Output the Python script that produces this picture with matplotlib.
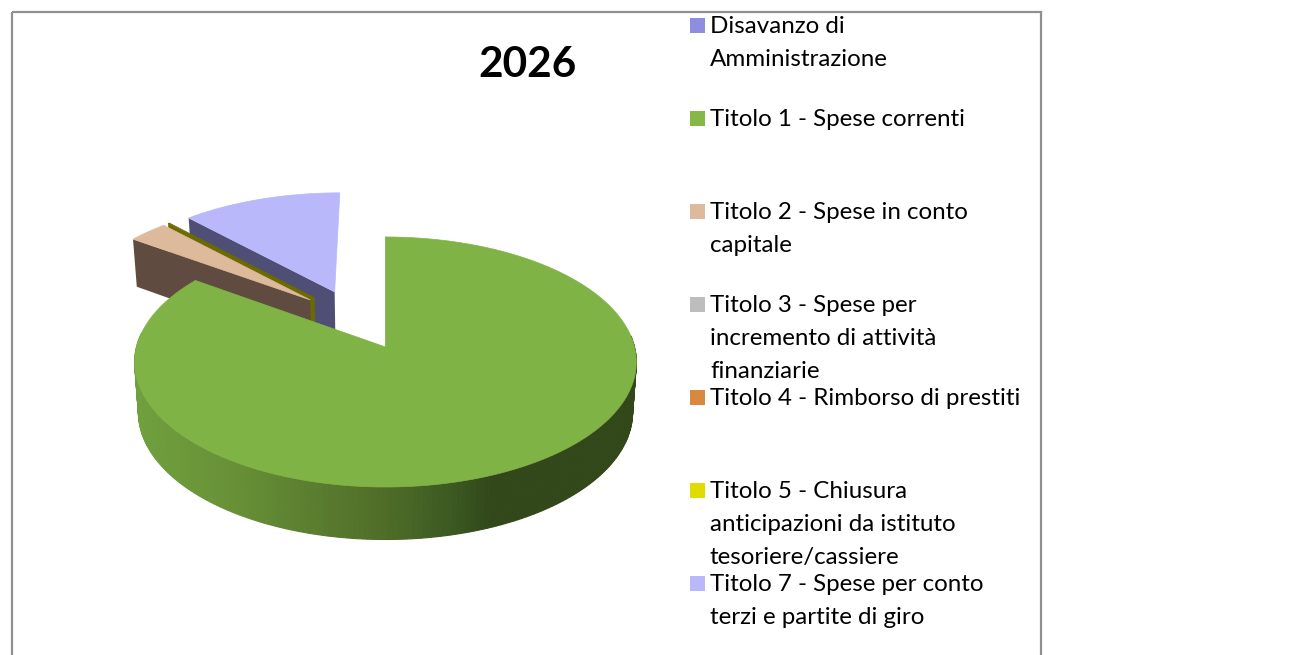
import numpy as np
import matplotlib
matplotlib.use('Agg')
import matplotlib.pyplot as plt
from matplotlib.patches import Rectangle

title = '2026'
# legend entries, one list item per line of text
legend_labels = [
    ['Disavanzo di', 'Amministrazione'],
    ['Titolo 1 - Spese correnti'],
    ['Titolo 2 - Spese in conto', 'capitale'],
    ['Titolo 3 - Spese per', 'incremento di attività', 'finanziarie'],
    ['Titolo 4 - Rimborso di prestiti'],
    ['Titolo 5 - Chiusura', 'anticipazioni da istituto', 'tesoriere/cassiere'],
    ['Titolo 7 - Spese per conto', 'terzi e partite di giro'],
]
legend_colors = ['#8e8ee0', '#84b847', '#deba9d', '#bdbdbd', '#d9893f', '#e0dc00', '#b8b8fb']
legend_y = [25, 118, 211, 304, 397, 490, 583]

# percentages, clockwise from 12 o'clock
values = [0, 84.8, 3.0, 0, 0, 0.12, 12.08]
top_colors = ['#8e8ee0', '#80b346', '#deba9d', '#bdbdbd', '#d9893f', '#6b6b00', '#b8b8fb']
wall_colors = ['#4c4c78', '#4a6a26', '#604b40', '#666666', '#70471f', '#6b6b00', '#4f4f75']

# fake 3d: exploded pie seen from above, with some perspective
ox, oy = 385.5, 347
rx, ry, persp = 249, 123.2, 0.12
explode = 0.26
depth = 50


def project(u, v):
    s = 1 + persp * v
    return ox + rx * u / s, oy - ry * v / s


def bottom(u, v):
    x, y = project(u, v)
    return ox + (x - ox) * 0.985, y + depth * (1 - 0.05 * v)


# picked off the side of the green slice, left to right
shade_x = [135, 230, 300, 380, 450, 490, 640]
shade_r = [112, 104, 92, 80, 60, 50, 50]
shade_g = [160, 145, 128, 110, 90, 72, 72]
shade_b = [62, 55, 48, 40, 34, 26, 26]

fig = plt.figure(figsize=(12.9, 6.55), dpi=100)
ax = fig.add_axes([0, 0, 1, 1])
ax.set_xlim(0, 1290)
ax.set_ylim(655, 0)
ax.axis('off')

ax.add_patch(Rectangle((12, 12), 1029, 660, fill=False, ec='#8f8f8f', lw=1.6, clip_on=True))

total = sum(values)
edges = np.cumsum([0] + values) / total * 2 * np.pi
# the centre of the whole pie, before each slice is pushed out
first_mid = (edges[1] + edges[2]) / 2
cu, cv = -explode * np.sin(first_mid), -explode * np.cos(first_mid)

# back slices first, green last so it covers them
order = [6, 5, 2, 1]
for z, i in enumerate(order):
    a0, a1 = edges[i], edges[i + 1]
    mid = (a0 + a1) / 2
    au = cu + explode * np.sin(mid)
    av = cv + explode * np.cos(mid)
    t = np.linspace(a0, a1, 300)
    ru = au + np.sin(t)
    rv = av + np.cos(t)
    base = 2 + z * 3

    # outer wall, only the part that faces the viewer
    for j in range(len(t) - 1):
        if np.cos(t[j]) > 0.1:
            continue
        x0, y0 = project(ru[j], rv[j])
        x1, y1 = project(ru[j + 1], rv[j + 1])
        x2, y2 = bottom(ru[j + 1], rv[j + 1])
        x3, y3 = bottom(ru[j], rv[j])
        xm = (x0 + x1) / 2
        c = (np.interp(xm, shade_x, shade_r) / 255,
             np.interp(xm, shade_x, shade_g) / 255,
             np.interp(xm, shade_x, shade_b) / 255)
        ax.fill([x0, x1, x2, x3], [y0, y1, y2, y3], color=c, lw=0.8, zorder=base)

    # flat wall along the radial edge that faces us
    if i != 1:
        eu, ev = au + np.sin(t[0]), av + np.cos(t[0])
        p = [project(au, av), project(eu, ev), bottom(eu, ev), bottom(au, av)]
        ax.fill([q[0] for q in p], [q[1] for q in p], color=wall_colors[i], lw=0, zorder=base)
    else:
        # thin dark edge on the vertical side of the green slice
        x0, y0 = project(au, av)
        x1, y1 = project(au + np.sin(t[0]), av + np.cos(t[0]))
        ax.plot([x0 + 0.5, x1 + 0.5], [y0, y1], color='#3f5a22', lw=1, zorder=base)

    tx, ty = project(np.r_[au, ru], np.r_[av, rv])
    ax.fill(tx, ty, color=top_colors[i], lw=0.5, zorder=base + 1)

ax.text(527, 65, title, fontsize=30.5, fontweight='bold', family='Lato',
        ha='center', va='center', color='black')

for lines, col, y in zip(legend_labels, legend_colors, legend_y):
    ax.add_patch(Rectangle((690, y - 7.5), 15, 15, fc=col, ec='none'))
    for n, line in enumerate(lines):
        ax.text(710, y + 33 * n + 1.5, line, fontsize=17.4, family='Lato',
                ha='left', va='center', color='black')

fig.savefig('out.png', dpi=100)
